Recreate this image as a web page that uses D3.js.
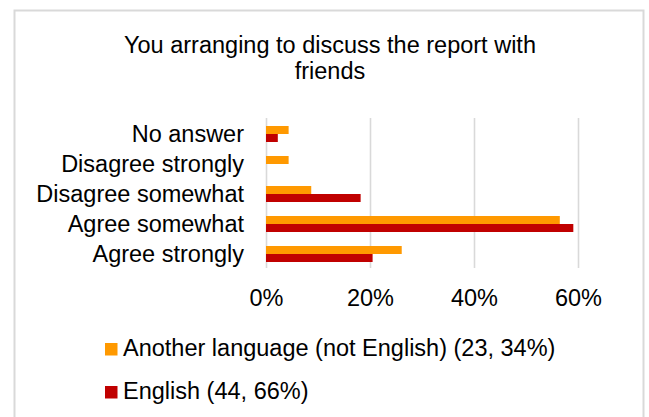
<!DOCTYPE html>
<html>
<head>
<meta charset="utf-8">
<script src="https://cdn.jsdelivr.net/npm/d3@7"></script>
<style>
  html, body { margin: 0; padding: 0; background: #fff; }
  svg { display: block; }
  text { font-family: "Liberation Sans", Arial, sans-serif; fill: #000; }
</style>
</head>
<body>
<svg id="chart" width="649" height="417"></svg>
<script>
const titleLines = ["You arranging to discuss the report with", "friends"];
const categories = ["No answer", "Disagree strongly", "Disagree somewhat", "Agree somewhat", "Agree strongly"];
const seriesNames = ["Another language (not English) (23, 34%)", "English (44, 66%)"];
const seriesColors = ["#FF9900", "#C00000"];
const anotherLanguage = [0.0435, 0.0435, 0.087, 0.565, 0.261];
const english = [0.0227, 0.0, 0.182, 0.591, 0.205];
const xTicks = [0, 0.2, 0.4, 0.6];

const seriesValues = [anotherLanguage, english];
const svg = d3.select("#chart");
const fontSize = 23.5;

// frame
svg.append("rect")
  .attr("x", 14.5).attr("y", 10.5)
  .attr("width", 629).attr("height", 420)
  .attr("fill", "#fff").attr("stroke", "#d9d9d9").attr("stroke-width", 2);

// title
svg.append("g").selectAll("text").data(titleLines).join("text")
  .attr("x", 330).attr("y", (d, i) => 53 + i * 26)
  .attr("text-anchor", "middle")
  .style("font-size", fontSize + "px")
  .text(d => d);

const plot = { left: 266, right: 578, top: 119, bottom: 269 };

const x = d3.scaleLinear().domain([0, 0.6]).range([plot.left, plot.right]);
const y = d3.scaleBand().domain(categories).range([plot.top, plot.bottom])
  .paddingInner(0.4667).paddingOuter(0.2333);
const ySub = d3.scaleBand().domain([0, 1]).range([0, y.bandwidth()]);

// gridlines
const grid = svg.append("g").attr("transform", `translate(0,${plot.bottom - 1})`)
  .call(d3.axisBottom(x).tickValues(xTicks).tickSize(-(plot.bottom - plot.top)).tickFormat(""));
grid.select(".domain").remove();
grid.selectAll("line").attr("stroke", "#d9d9d9").attr("stroke-width", 1.6);

// bars
const rows = categories.map((c, i) => ({ cat: c, vals: seriesValues.map(s => s[i]) }));
const groups = svg.append("g").selectAll("g").data(rows).join("g")
  .attr("transform", d => `translate(0,${y(d.cat)})`);
groups.selectAll("rect").data(d => d.vals.map((v, k) => ({ v, k }))).join("rect")
  .attr("x", x(0))
  .attr("y", d => ySub(d.k))
  .attr("width", d => x(d.v) - x(0))
  .attr("height", ySub.bandwidth())
  .attr("fill", d => seriesColors[d.k]);

// category axis
const yAxis = svg.append("g").attr("transform", `translate(${plot.left},0)`)
  .call(d3.axisLeft(y).tickSize(0).tickPadding(22));
yAxis.select(".domain").remove();
yAxis.selectAll("text").style("font-size", fontSize + "px").attr("fill", "#000")
  .style("font-family", '"Liberation Sans", Arial, sans-serif');

// value axis labels
const xAxis = svg.append("g").attr("transform", `translate(0,${plot.bottom - 1})`)
  .call(d3.axisBottom(x).tickValues(xTicks).tickSize(0).tickPadding(21.5).tickFormat(d3.format(".0%")));
xAxis.select(".domain").remove();
xAxis.selectAll("text").style("font-size", fontSize + "px").attr("fill", "#000")
  .style("font-family", '"Liberation Sans", Arial, sans-serif');

// legend
const legend = svg.append("g").selectAll("g").data(seriesNames).join("g")
  .attr("transform", (d, i) => `translate(105,${343 + i * 43})`);
legend.append("rect").attr("width", 12.5).attr("height", 12.5)
  .attr("fill", (d, i) => seriesColors[i]);
legend.append("text").attr("x", 18).attr("y", 13)
  .style("font-size", fontSize + "px").text(d => d);
</script>
</body>
</html>
